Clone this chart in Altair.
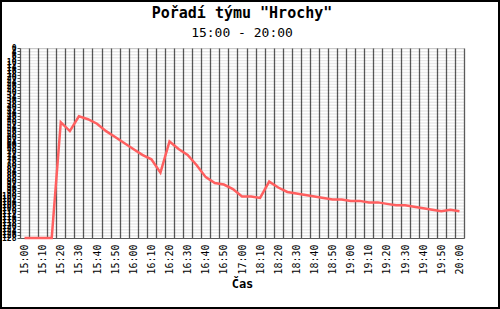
import altair as alt
import pandas as pd

times = [
    "15:00", "15:05", "15:10", "15:15", "15:20", "15:25", "15:30", "15:35",
    "15:40", "15:45", "15:50", "15:55", "16:00", "16:05", "16:10", "16:15",
    "16:20", "16:25", "16:30", "16:35", "16:40", "16:45", "16:50", "16:55",
    "17:00", "18:05", "18:10", "18:15", "18:20", "18:25", "18:30", "18:35",
    "18:40", "18:45", "18:50", "18:55", "19:00", "19:05", "19:10", "19:15",
    "19:20", "19:25", "19:30", "19:35", "19:40", "19:45", "19:50", "19:55",
    "20:00",
]
ranks = [
    128, 128, 128, 128, 50, 56, 46, 48,
    51, 56, 60, 64, 68, 72, 75, 84,
    63, 68, 72, 79, 87, 91, 92, 95,
    100, 100, 101, 90, 94, 97, 98, 99,
    100, 101, 102, 102, 103, 103, 104, 104,
    105, 106, 106, 107, 108, 109, 110, 109,
    110,
]
rank_max = 128
stripe_starts = list(range(0, rank_max, 2))
y_ticks = list(range(0, rank_max + 1, 2))

W, H = 444, 190
MONO = "DejaVu Sans Mono"

df = pd.DataFrame({"t": times, "rank": ranks})
stripes = pd.DataFrame({"lo": stripe_starts})

yscale = alt.Scale(domain=[0, rank_max], reverse=True, nice=False, zero=False)
yaxis = alt.Axis(
    values=y_ticks, title=None, grid=False, labelFontSize=8, labelFontWeight="bold",
    labelFont=MONO, labelColor="black", labelOverlap=False,
    tickColor="#555555", tickSize=3, domain=False, labelPadding=1)

stripe_layer = alt.Chart(stripes).transform_calculate(
    hi="datum.lo + 1"
).mark_rect(color="black", opacity=0.09).encode(
    x=alt.value(0),
    x2=alt.value(W),
    y=alt.Y("lo:Q", scale=yscale, axis=yaxis),
    y2="hi:Q",
)

line_layer = alt.Chart(df).mark_line(color="#ff5f5f", strokeWidth=2.5).encode(
    x=alt.X("t:N", sort=times,
            scale=alt.Scale(type="band", paddingInner=0, paddingOuter=0),
            axis=alt.Axis(
                title="Čas", titleFont=MONO, titleFontSize=12, titleFontWeight="bold",
                titleColor="black", titlePadding=4,
                tickBand="extent", grid=True, gridColor="#5a5a5a", gridOpacity=1,
                gridWidth=1.3, ticks=False, domain=True, domainColor="#5a5a5a",
                labelAngle=270, labelFont=MONO, labelFontSize=10, labelColor="black",
                labelPadding=6, labelOverlap=False,
                labelExpr="substring(datum.label, 4, 5) == '0' ? datum.label : ''")),
    y=alt.Y("rank:Q", scale=yscale, axis=yaxis),
)

border = alt.Chart(pd.DataFrame({"a": [0]})).mark_rect(
    fill="transparent", stroke="black", strokeWidth=2, clip=False
).encode(
    x=alt.value(-19), x2=alt.value(479), y=alt.value(-47), y2=alt.value(260)
)

chart = alt.layer(stripe_layer, line_layer, border).properties(
    width=W, height=H,
    autosize=alt.AutoSizeParams(type="none"),
    padding={"left": 20, "top": 48, "right": 36, "bottom": 71},
    title=alt.TitleParams(
        text='Pořadí týmu "Hrochy"', subtitle="15:00 - 20:00",
        font=MONO, fontSize=15, fontWeight="bold", color="black",
        subtitleFont=MONO, subtitleFontSize=13, subtitleColor="black",
        subtitlePadding=6, anchor="middle", offset=-40),
).configure_view(fill="#ececec", stroke=None).configure(background="white")

chart.save("out.html", embed_options={"renderer": "svg", "actions": False})
